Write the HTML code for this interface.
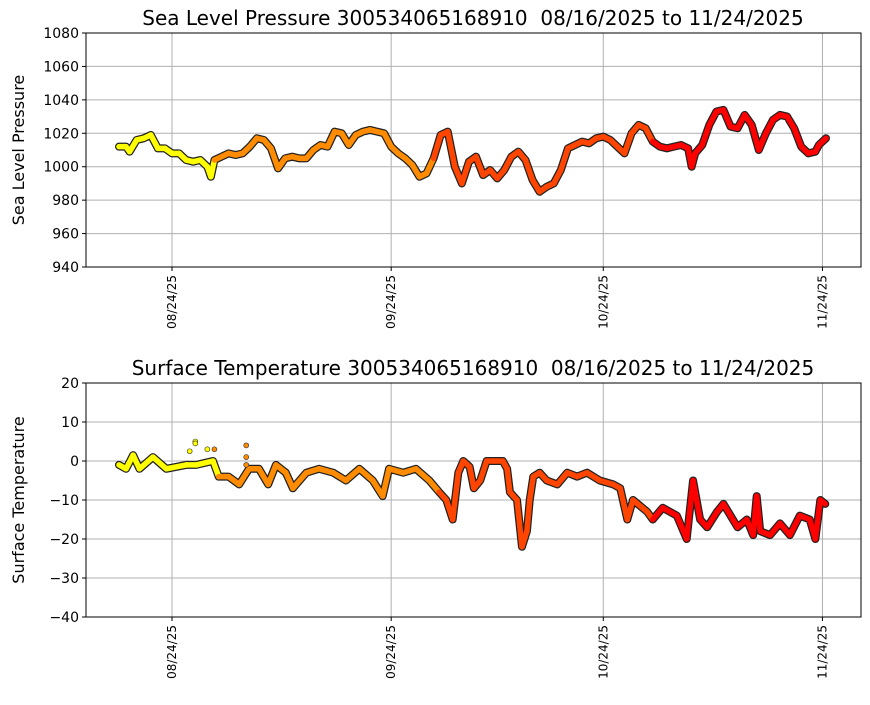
<!DOCTYPE html>
<html><head><meta charset="utf-8"><style>
body{margin:0;background:#fff;font-family:"Liberation Sans","DejaVu Sans",sans-serif}
svg text{font-family:"DejaVu Sans","Liberation Sans",sans-serif;white-space:pre}
</style></head><body>
<svg id="c" width="870" height="700" xmlns="http://www.w3.org/2000/svg"></svg>
<script>
const tickDays=[8,39,69,100];
const tickLabels=["08/24/25","09/24/25","10/24/25","11/24/25"];
const pDays=[0.5,1.5,2,3,4,5,6,7,8,9,10,11,12,13,13.5,14,15,16,17,18,19,20,21,22,23,24,25,26,27,28,29,30,31,32,33,34,35,36,37,38,39,40,41,42,43,44,45,46,47,48,49,50,51,52,53,54,55,56,57,58,59,60,61,62,63,64,65,66,67,68,69,70,71,72,73,74,75,76,77,78,79,80,81,81.5,82,83,84,85,86,87,88,89,90,91,92,93,94,95,96,97,98,99,99.5,100,100.5];
const pVals=[1012,1012,1009,1016,1017,1019,1011,1011,1008,1008,1004,1003,1004,1000,994,1004,1006,1008,1007,1008,1012,1017,1016,1011,999,1005,1006,1005,1005,1010,1013,1012,1021,1020,1013,1019,1021,1022,1021,1020,1012,1008,1005,1001,994,996,1005,1019,1021,1000,990,1003,1006,995,998,993,998,1006,1009,1004,992,985,988,990,998,1011,1013,1015,1014,1017,1018,1016,1012,1008,1020,1025,1023,1015,1012,1011,1012,1013,1011,1000,1008,1013,1025,1033,1034,1024,1023,1031,1025,1010,1020,1028,1031,1030,1023,1012,1008,1009,1013,1015,1017];
const tDays=[0.5,1.5,2.5,3.4,5.3,7.2,10,11.4,13.8,14.6,16,17.5,18.9,20.3,21.6,22.7,24.1,25.1,27,28.8,30.8,32.6,34.5,36.4,37.8,38.7,40.7,42.5,44.4,45.8,46.8,47.7,48.5,49.2,50.1,50.7,51.6,52.5,53.4,54.8,55.4,55.8,56.8,57.5,58.2,58.6,59.1,60,61,62.5,63.9,65.3,66.7,68.5,70.4,71.4,72.4,73.2,75.2,76,77.4,79.4,80.8,81.7,82.7,83.7,85.1,86,88,89.3,90.2,90.7,91.2,92.6,94,95.4,96.8,98.2,99,99.7,100.4];
const tVals=[-1,-2,1.5,-2,1,-2,-1,-1,0,-4,-4,-6,-2,-2,-6,-1,-3,-7,-3,-2,-3,-5,-2,-5,-9,-2,-3,-2,-5,-8,-10,-15,-3,0,-1.5,-7,-5,0,0,0,-2,-8,-10,-22,-18,-10,-4,-3,-5,-6,-3,-4,-3,-5,-6,-7,-15,-10,-13,-15,-12,-14,-20,-5,-15,-17,-13,-11,-17,-15,-19,-9,-18,-19,-16,-19,-14,-15,-20,-10,-11];
const outDays=[11.3,11.3,13,14,18.5,18.5,18.5,10.5];
const outVals=[5,4.5,3,3,4,1,-1,2.5];
const NS="http://www.w3.org/2000/svg";
const svg=document.getElementById('c');
function el(t,a,p){const e=document.createElementNS(NS,t);for(const k in a)e.setAttribute(k,a[k]);(p||svg).appendChild(e);return e;}
const xs=d=>172+(d-8)*7.07;
function col(d){return d<14?'#ffff00':d<45?'#ff8c00':d<76?'#ff4500':'#ff0000';}
function panel(top,bottom,ymin,ymax,ystep,title,ylabel,days,vals,name){
  const ys=v=>bottom-(v-ymin)/(ymax-ymin)*(bottom-top);
  const g=el('g',{});
  
  
  for(let v=ymin;v<=ymax;v+=ystep){
    el('line',{x1:86,x2:861,y1:ys(v),y2:ys(v),stroke:'#b0b0b0','stroke-width':1},g);
    el('line',{x1:82,x2:86,y1:ys(v),y2:ys(v),stroke:'#000'},g);
    const t=el('text',{x:79,y:ys(v)+5,'text-anchor':'end','font-size':14},g);
    t.textContent=v<0?'\u2212'+(-v):v;
    
    
  }
  tickDays.forEach((d,i)=>{
    el('line',{x1:xs(d),x2:xs(d),y1:top,y2:bottom,stroke:'#b0b0b0','stroke-width':1},g);
    el('line',{x1:xs(d),x2:xs(d),y1:bottom,y2:bottom+4,stroke:'#000'},g);
    const t=el('text',{x:0,y:0,'font-size':12,'text-anchor':'end',transform:`translate(${xs(d)+4},${bottom+8}) rotate(-90)`},g);
    t.textContent=tickLabels[i];
    
    
  });
  let pts=days.map((d,i)=>xs(d)+','+ys(vals[i])).join(' ');
  const ol=el('polyline',{points:pts,fill:'none',stroke:'#222','stroke-width':8,'stroke-linejoin':'round','stroke-linecap':'round'},g);
  
  
  for(let i=0;i<days.length-1;i++){
    const s=el('line',{x1:xs(days[i]),y1:ys(vals[i]),x2:xs(days[i+1]),y2:ys(vals[i+1]),stroke:col(days[i]),'stroke-width':5.5,'stroke-linecap':'round'},g);
    
    
  }
  el('rect',{x:86,y:top,width:775,height:bottom-top,fill:'none',stroke:'#000','stroke-width':1},g);
  const tt=el('text',{x:473,y:top-8,'text-anchor':'middle','font-size':20},g);
  tt.textContent=title;
  
  
  const yl=el('text',{x:0,y:0,'text-anchor':'middle','font-size':16,transform:`translate(24,${(top+bottom)/2}) rotate(-90)`},g);
  yl.textContent=ylabel;
  
  
  return ys;
}
panel(33,267,940,1080,20,'Sea Level Pressure 300534065168910  08/16/2025 to 11/24/2025','Sea Level Pressure',pDays,pVals,'pressure');
const ys2=panel(383,617,-40,20,10,'Surface Temperature 300534065168910  08/16/2025 to 11/24/2025','Surface Temperature',tDays,tVals,'temperature');
outDays.forEach((d,i)=>{
  const c=el('circle',{cx:xs(d),cy:ys2(outVals[i]),r:2.5,fill:col(d),stroke:'#333','stroke-width':0.6});
  
  
});
</script>
</body></html>
